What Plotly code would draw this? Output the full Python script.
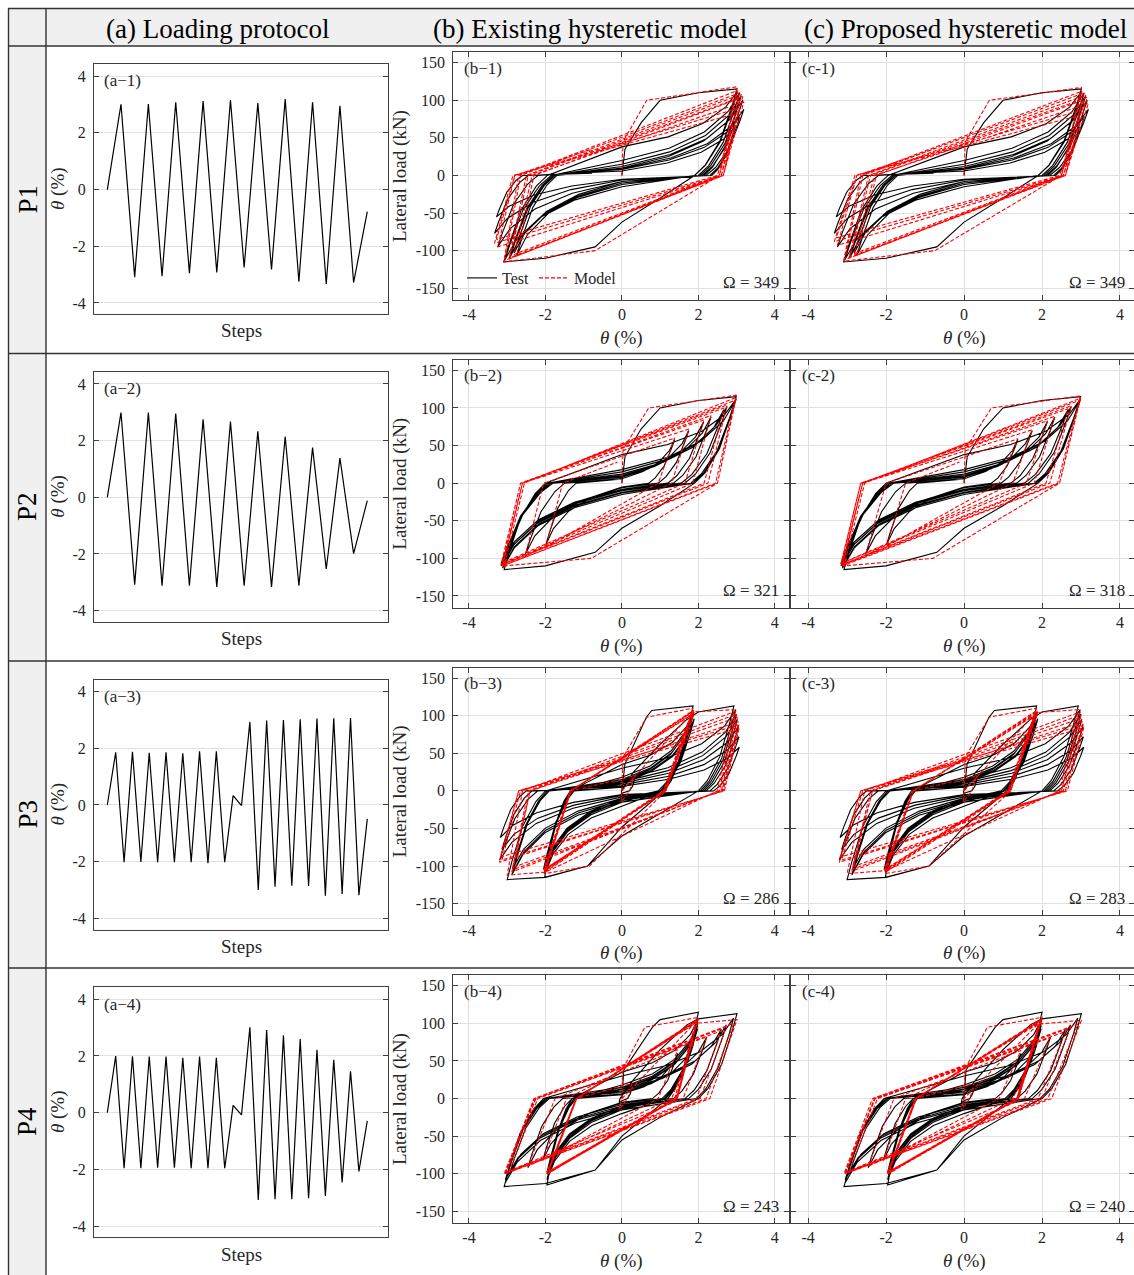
import plotly.graph_objects as go

W, H = 1134, 1275
FONT = "Liberation Serif"
TXT = "#262626"
AX = "#404040"
GRID = "#e0e0e0"
ROW = 307.7

# ---------------- loading protocols: drift (%) at each loading step ----------------
P1_drift = [0, 3.01, -3.09, 3.02, -3.06, 3.08, -2.95, 3.12, -2.92, 3.16, -2.75, 3.05, -2.82,
            3.19, -3.25, 3.08, -3.33, 2.96, -3.28, -0.78]
P2_drift = [0, 2.99, -3.08, 2.99, -3.12, 2.95, -3.12, 2.75, -3.16, 2.67, -3.12, 2.33, -3.16,
            2.14, -3.12, 1.75, -2.53, 1.38, -1.99, -0.12]
P3_drift = [0, 1.86, -2.02, 1.88, -2.01, 1.84, -2.02, 1.86, -2.02, 1.82, -2.02, 1.89, -2.05,
            1.89, -2.02, 0.33, -0.02, 2.93, -3.00, 2.98, -2.88, 3.00, -2.85, 3.02, -2.86,
            3.05, -3.20, 3.06, -3.14, 3.07, -3.18, -0.49]
P4_drift = [0, 2.00, -1.96, 1.99, -1.96, 1.98, -1.94, 1.98, -1.94, 1.94, -1.96, 1.98, -1.96,
            1.94, -1.96, 0.26, -0.08, 3.01, -3.08, 2.92, -3.05, 2.73, -3.05, 2.60, -3.02,
            2.22, -2.94, 1.87, -2.46, 1.46, -2.07, -0.29]

# ---------------- test: load (kN) at each drift peak, zero-load drift after unloading,
# load at zero drift on the following branch ----------------
P1_test_peak = [115, -115, 112, -112, 110, -110, 106, -108, 100, -106, 95, -103, 88, -95, 78, -77, 65, -55]
P1_test_zero = [1.9, -1.95, 1.9, -1.85, 2.0, -1.8, 2.05, -1.75, 2.1, -1.7, 2.15, -1.75, 2.2, -2.2, 2.3, -2.45, 2.35, -2.6]
P1_test_pinch = [-62, 38, -15, 20, -12, 15, -10, 12, -10, 10, -8, 9, -8, 8, -6, 6, -5, 4]
P1_test_first = [(0.08, 35), (0.5, 70), (1.0, 100), (2.0, 110)]
P1_test_env = {0: [(1.0, -30), (0, -62), (-0.7, -95), (-2.0, -110)]}
P1_test_end = 3

P2_test_peak = [115, -115, 112, -113, 108, -112, 102, -110, 98, -108, 88, -107, 82, -105, 70, -95, 58, -82]
P2_test_zero = [1.9, -2.0, 1.85, -1.95, 1.8, -1.9, 1.65, -1.9, 1.55, -1.85, 1.35, -1.85, 1.2, -1.8, 0.95, -1.5, 0.7, -1.2]
P2_test_pinch = [-60, 38, -15, 18, -13, 15, -12, 12, -10, 10, -9, 9, -8, 8, -6, 6, -5, 0]
P2_test_first = [(0.08, 35), (0.5, 72), (1.0, 100), (2.0, 110)]
P2_test_env = {0: [(1.0, -30), (0, -60), (-0.7, -92), (-2.0, -110)]}
P2_test_end = 5

P3_test_peak = [113, -115, 105, -110, 102, -108, 100, -106, 98, -105, 96, -104, 95, -103, 15, -8,
                113, -118, 108, -112, 102, -108, 95, -104, 85, -92, 72, -78, 58, -62]
P3_test_zero = [1.1, -1.35, 1.05, -1.3, 1.0, -1.3, 1.0, -1.25, 0.95, -1.25, 1.0, -1.25, 1.0, -1.25, 0.2, -0.01,
                2.0, -2.0, 2.05, -1.95, 2.1, -1.9, 2.15, -1.9, 2.2, -2.2, 2.3, -2.35, 2.4, -2.5]
P3_test_pinch = [-50, 35, -20, 18, -15, 15, -13, 13, -12, 12, -10, 10, -10, 5, -3, 5,
                 -40, 30, -15, 15, -12, 12, -10, 10, -8, 8, -6, 6, -5, 0]
P3_test_first = [(0.08, 36), (0.64, 98), (0.78, 107)]
P3_test_env = {0: [(0, -48), (-0.9, -100)],
               15: [(0.3, 25), (1.0, 62), (1.7, 95), (2.0, 105)],
               16: [(1.0, -30), (0, -60), (-0.9, -100), (-2.0, -115)]}
P3_test_end = 5

P4_test_peak = [115, -115, 105, -108, 100, -104, 97, -102, 95, -100, 93, -99, 92, -98, 15, -8,
                113, -117, 107, -112, 98, -108, 92, -105, 82, -100, 72, -92, 60, -82]
P4_test_zero = [1.2, -1.3, 1.15, -1.25, 1.1, -1.25, 1.1, -1.2, 1.05, -1.2, 1.1, -1.2, 1.05, -1.2, 0.15, -0.05,
                2.0, -2.05, 1.95, -2.0, 1.75, -2.0, 1.65, -1.95, 1.35, -1.9, 1.1, -1.55, 0.8, -1.3]
P4_test_pinch = [-50, 35, -20, 18, -15, 15, -13, 13, -12, 12, -10, 10, -10, 5, -3, 5,
                 -45, 30, -15, 15, -12, 12, -10, 10, -8, 8, -6, 6, -5, 0]
P4_test_first = [(0.05, 38), (0.8, 95), (1.0, 105)]
P4_test_env = {0: [(0, -50), (-0.7, -95)],
               15: [(0.3, 25), (1.0, 65), (1.7, 98), (2.0, 106)],
               16: [(1.0, -25), (0, -55), (-0.7, -95), (-2.0, -113)]}
P4_test_end = 5

# ---------------- models: peak load (kN) and zero-load drift after unloading ----------------
P1_b_peak = [118, -115, 113, -113, 110, -111, 108, -109, 105, -107, 102, -105, 98, -95, 90, -90, 82, -85]
P1_b_zero = [2.55, -2.7, 2.55, -2.65, 2.6, -2.5, 2.65, -2.45, 2.65, -2.3, 2.55, -2.35, 2.65, -2.8, 2.6, -2.85, 2.5, -2.8]
P1_c_peak = [117, -114, 112, -112, 110, -110, 107, -108, 104, -106, 100, -104, 96, -93, 88, -88, 80, -83]
P1_c_zero = [2.5, -2.65, 2.5, -2.6, 2.55, -2.45, 2.6, -2.4, 2.6, -2.25, 2.5, -2.3, 2.6, -2.75, 2.55, -2.8, 2.45, -2.75]
P1_model_first = [(0.03, 45), (0.65, 100)]
P1_b_env = {0: [(-0.7, -100)]}
P1_c_env = {0: [(-0.75, -100)]}
P1_model_end = 35

P2_b_peak = [117, -110, 114, -110, 110, -110, 104, -109, 100, -108, 90, -108, 84, -106, 72, -97, 60, -85]
P2_b_zero = [2.5, -2.55, 2.5, -2.6, 2.45, -2.6, 2.25, -2.65, 2.15, -2.6, 1.85, -2.65, 1.65, -2.6, 1.3, -2.05, 0.95, -1.55]
P2_c_peak = [116, -110, 113, -110, 110, -109, 103, -109, 99, -108, 89, -107, 83, -106, 71, -96, 59, -84]
P2_c_zero = [2.45, -2.55, 2.45, -2.6, 2.4, -2.6, 2.2, -2.65, 2.1, -2.6, 1.8, -2.65, 1.6, -2.6, 1.25, -2.0, 0.9, -1.5]
P2_model_first = [(0.03, 45), (0.7, 100)]
P2_b_env = {0: [(-0.8, -100)]}
P2_c_env = {0: [(-0.8, -100)]}
P2_model_end = 28

P3_b_peak = [110, -110, 107, -108, 106, -107, 105, -106, 104, -105, 104, -105, 103, -104, 20, -15,
             108, -112, 106, -108, 102, -105, 98, -102, 92, -95, 88, -92, 84, -88]
P3_b_zero = [1.15, -1.35, 1.15, -1.33, 1.1, -1.35, 1.12, -1.33, 1.08, -1.33, 1.15, -1.36, 1.15, -1.33, 0.2, 0.0,
             2.5, -2.6, 2.55, -2.45, 2.55, -2.4, 2.6, -2.4, 2.62, -2.7, 2.65, -2.65, 2.68, -2.7]
P3_c_peak = [110, -110, 107, -108, 106, -107, 105, -106, 104, -105, 104, -105, 103, -104, 20, -15,
             108, -110, 105, -107, 101, -104, 97, -101, 92, -95, 88, -92, 84, -88]
P3_c_zero = [1.2, -1.3, 1.2, -1.3, 1.15, -1.3, 1.15, -1.3, 1.12, -1.3, 1.18, -1.32, 1.18, -1.3, 0.2, 0.0,
             2.45, -2.55, 2.5, -2.4, 2.5, -2.35, 2.55, -2.35, 2.6, -2.65, 2.6, -2.6, 2.65, -2.65]
P3_model_first = [(0.03, 45), (0.65, 98)]
P3_b_env = {0: [(-0.85, -100)], 15: [(1.85, 105)], 16: [(-2.0, -108)]}
P3_c_env = {0: [(-0.9, -100)], 15: [(1.85, 104)], 16: [(-2.0, -106)]}
P3_model_end = 35

P4_b_peak = [108, -100, 106, -100, 105, -100, 104, -99, 103, -99, 102, -98, 101, -98, 20, -15,
             105, -100, 100, -100, 95, -99, 90, -98, 82, -96, 75, -90, 65, -82]
P4_b_zero = [1.45, -1.2, 1.45, -1.2, 1.42, -1.18, 1.42, -1.18, 1.38, -1.2, 1.42, -1.2, 1.38, -1.2, 0.15, 0.0,
             2.3, -2.3, 2.2, -2.28, 2.05, -2.28, 1.95, -2.25, 1.6, -2.2, 1.3, -1.75, 0.95, -1.45]
P4_c_peak = [108, -100, 106, -100, 105, -100, 104, -99, 103, -99, 102, -98, 101, -98, 20, -15,
             104, -100, 99, -100, 94, -99, 89, -98, 81, -96, 74, -90, 64, -82]
P4_c_zero = [1.4, -1.25, 1.4, -1.25, 1.38, -1.22, 1.38, -1.22, 1.35, -1.25, 1.38, -1.25, 1.35, -1.25, 0.15, 0.0,
             2.25, -2.35, 2.15, -2.3, 2.0, -2.3, 1.9, -2.28, 1.55, -2.22, 1.25, -1.8, 0.9, -1.5]
P4_model_first = [(0.03, 40), (0.6, 95)]
P4_b_env = {15: [(1.9, 100)]}
P4_c_env = {15: [(1.9, 99)]}
P4_model_end = 30

OMEGA_B = [349, 321, 286, 243]
OMEGA_C = [349, 318, 283, 240]
ROW_LABELS = ["P1", "P2", "P3", "P4"]
HEADERS = ["(a) Loading protocol", "(b) Existing hysteretic model", "(c) Proposed hysteretic model"]
DRIFT_TICKS = [-4, -2, 0, 2, 4]
LOAD_TICKS = [-150, -100, -50, 0, 50, 100, 150]

# shape of a test half-cycle (fractions of the way between read-off key points)
UNLOAD_FRAC = [(0.12, 0.8), (0.4, 0.4), (0.75, 0.12)]
RELOAD_FRAC = [(0.4, 0.18), (0.7, 0.42), (0.9, 0.72)]


def tick_text(vals):
    return [str(v) for v in vals]


def test_path(drift, peak, zero, pinch, first, env, end_load):
    ext = drift[1:-1]
    xs = [0.0] + [p[0] for p in first] + [ext[0]]
    ys = [0.0] + [p[1] for p in first] + [peak[0]]
    n = len(ext)
    for i in range(n):
        dA, FA, z = ext[i], peak[i], zero[i]
        for fx, fy in UNLOAD_FRAC:
            xs.append(dA + (z - dA) * fx); ys.append(FA * fy)
        xs.append(z); ys.append(0.0)
        if i == n - 1:
            xs.append(drift[-1]); ys.append(end_load)
            break
        dB, FB = ext[i + 1], peak[i + 1]
        if i in env:
            xs += [p[0] for p in env[i]]; ys += [p[1] for p in env[i]]
        else:
            y0 = pinch[i]
            if z * dB < 0:
                xs.append(0.0); ys.append(y0)
            for fx, fy in RELOAD_FRAC:
                xs.append(dB * fx); ys.append(y0 + (FB - y0) * fy)
        xs.append(dB); ys.append(FB)
    return xs, ys


def model_path(drift, peak, zero, first, env, end_load):
    ext = drift[1:-1]
    xs = [0.0] + [p[0] for p in first] + [ext[0]]
    ys = [0.0] + [p[1] for p in first] + [peak[0]]
    n = len(ext)
    for i in range(n):
        xs.append(zero[i]); ys.append(0.0)
        if i == n - 1:
            xs.append(drift[-1]); ys.append(end_load)
            break
        if i in env:
            xs += [p[0] for p in env[i]]; ys += [p[1] for p in env[i]]
        xs.append(ext[i + 1]); ys.append(peak[i + 1])
    return xs, ys


specimens = [
    dict(drift=P1_drift, tp=P1_test_peak, tz=P1_test_zero, tpi=P1_test_pinch, tf=P1_test_first, te=P1_test_env, tend=P1_test_end,
         bp=P1_b_peak, bz=P1_b_zero, be=P1_b_env, cp=P1_c_peak, cz=P1_c_zero, ce=P1_c_env, mf=P1_model_first, mend=P1_model_end),
    dict(drift=P2_drift, tp=P2_test_peak, tz=P2_test_zero, tpi=P2_test_pinch, tf=P2_test_first, te=P2_test_env, tend=P2_test_end,
         bp=P2_b_peak, bz=P2_b_zero, be=P2_b_env, cp=P2_c_peak, cz=P2_c_zero, ce=P2_c_env, mf=P2_model_first, mend=P2_model_end),
    dict(drift=P3_drift, tp=P3_test_peak, tz=P3_test_zero, tpi=P3_test_pinch, tf=P3_test_first, te=P3_test_env, tend=P3_test_end,
         bp=P3_b_peak, bz=P3_b_zero, be=P3_b_env, cp=P3_c_peak, cz=P3_c_zero, ce=P3_c_env, mf=P3_model_first, mend=P3_model_end),
    dict(drift=P4_drift, tp=P4_test_peak, tz=P4_test_zero, tpi=P4_test_pinch, tf=P4_test_first, te=P4_test_env, tend=P4_test_end,
         bp=P4_b_peak, bz=P4_b_zero, be=P4_b_env, cp=P4_c_peak, cz=P4_c_zero, ce=P4_c_env, mf=P4_model_first, mend=P4_model_end),
]


def px(x):
    return x / W


def py(y):
    return 1 - y / H


fig = go.Figure()
layout = {}
annotations = []


def ann(text, x, y, size=15, xanchor="center", yanchor="middle", angle=0, color=TXT):
    annotations.append(dict(text=text, x=px(x), y=py(y), xref="paper", yref="paper", showarrow=False,
                            xanchor=xanchor, yanchor=yanchor, textangle=angle,
                            font=dict(family=FONT, size=size, color=color)))


def base_axis():
    return dict(showline=True, linecolor=AX, linewidth=1, mirror="ticks", ticks="inside", ticklen=5,
                tickcolor=AX, tickwidth=1, zeroline=False, gridcolor=GRID, gridwidth=1,
                tickfont=dict(family=FONT, size=16, color=TXT))


dash_red = "4px,2px"

for r, sp in enumerate(specimens):
    off = ROW * r
    drift = sp["drift"]
    N = len(drift) - 1
    # ---- (a) protocol ----
    ia = r + 1
    fig.add_trace(go.Scatter(x=list(range(len(drift))), y=drift, mode="lines",
                             line=dict(color="black", width=1.2), showlegend=False,
                             xaxis=f"x{ia}", yaxis=f"y{ia}", hoverinfo="skip"))
    xa = base_axis()
    xa.update(domain=[px(94), px(388.3)], range=[-0.0512 * N, N * 1.0808], showgrid=False, ticks="",
              showticklabels=False, mirror=True, anchor=f"y{ia}")
    ya = base_axis()
    ya.update(domain=[py(314.3 + off), py(64.3 + off)], range=[-4.4, 4.42], tickvals=DRIFT_TICKS,
              ticktext=tick_text(DRIFT_TICKS), anchor=f"x{ia}", ticklabelstandoff=4)
    layout[f"xaxis{ia}"] = xa
    layout[f"yaxis{ia}"] = ya
    ann(f"(a\u2212{r+1})", 102, 81 + off, 17, xanchor="left")
    ann("<i>θ</i> (%)", 58, 189 + off, 19, angle=-90)
    ann("Steps", 241, 331 + off, 19)

    tx, ty = test_path(drift, sp["tp"], sp["tz"], sp["tpi"], sp["tf"], sp["te"], sp["tend"])
    for k, (col, pk, zr, env, x0, x1, om, lab, omx) in enumerate([
            ("b", sp["bp"], sp["bz"], sp["be"], 453.3, 789, OMEGA_B[r], f"(b\u2212{r+1})", 781),
            ("c", sp["cp"], sp["cz"], sp["ce"], 791, 1134, OMEGA_C[r], f"(c-{r+1})", 1127)]):
        i = 5 + r + 4 * k
        mx, my = model_path(drift, pk, zr, sp["mf"], env, sp["mend"])
        first = (r == 0 and k == 0)
        fig.add_trace(go.Scatter(x=tx, y=ty, mode="lines", name="Test",
                                 line=dict(color="black", width=1.1), showlegend=first,
                                 xaxis=f"x{i}", yaxis=f"y{i}", hoverinfo="skip"))
        fig.add_trace(go.Scatter(x=mx, y=my, mode="lines", name="Model",
                                 line=dict(color="#ff0000", width=1.1, dash=dash_red), showlegend=first,
                                 xaxis=f"x{i}", yaxis=f"y{i}", hoverinfo="skip"))
        xb = base_axis()
        rng_r = 4.37 if col == "b" else 4.36
        rng_l = -4.41 if col == "b" else -4.44
        xb.update(domain=[px(x0), px(x1)], range=[rng_l, rng_r], tickvals=DRIFT_TICKS,
                  ticktext=tick_text(DRIFT_TICKS), anchor=f"y{i}")
        yb = base_axis()
        yb.update(domain=[py(300 + off), py(52.3 + off)], range=[-165.6, 163.8], tickvals=LOAD_TICKS,
                  ticktext=tick_text(LOAD_TICKS), anchor=f"x{i}", ticklabelstandoff=4,
                  showticklabels=(col == "b"))
        layout[f"xaxis{i}"] = xb
        layout[f"yaxis{i}"] = yb
        ann(lab, x0 + 9, 68 + off, 17, xanchor="left")
        ann(f"Ω = {om}", omx, 283 + off, 17, xanchor="right")
        ann("<i>θ</i> (%)", 621 if col == "b" else 964, 338 + off, 19)
        if col == "b":
            ann("Lateral load (kN)", 400, 176 + off, 19, angle=-90)

# headers and row labels
for t, cx in zip(HEADERS, [217, 590, 965]):
    ann(t, cx, 29, 27, color="black")
for r, t in enumerate(ROW_LABELS):
    ann(t, 27, 199.5 + 307.5 * r, 27, angle=-90, color="black")

LINE = "#333333"
shapes = [
    dict(type="rect", xref="paper", yref="paper", x0=px(8), x1=px(1134), y0=py(46), y1=py(9),
         fillcolor="#f0f0f0", line=dict(width=0), layer="below"),
    dict(type="rect", xref="paper", yref="paper", x0=px(8), x1=px(46), y0=py(1275), y1=py(46),
         fillcolor="#f0f0f0", line=dict(width=0), layer="below"),
]
for yl in [8.5, 46, 353.5, 661, 968]:
    shapes.append(dict(type="line", xref="paper", yref="paper", x0=px(8), x1=px(1134), y0=py(yl), y1=py(yl),
                       line=dict(color=LINE, width=1.4)))
for xl in [8.5, 46]:
    shapes.append(dict(type="line", xref="paper", yref="paper", x0=px(xl), x1=px(xl), y0=py(8.5), y1=py(1275),
                       line=dict(color=LINE, width=1.4)))

fig.update_layout(
    width=W, height=H, margin=dict(l=0, r=0, t=0, b=0),
    paper_bgcolor="white", plot_bgcolor="white",
    annotations=annotations, shapes=shapes,
    legend=dict(x=px(462), y=py(278), xanchor="left", yanchor="middle", orientation="h",
                bgcolor="rgba(0,0,0,0)", font=dict(family=FONT, size=16, color=TXT),
                itemwidth=30, tracegroupgap=0),
    **layout,
)
fig.write_html("out.html")
